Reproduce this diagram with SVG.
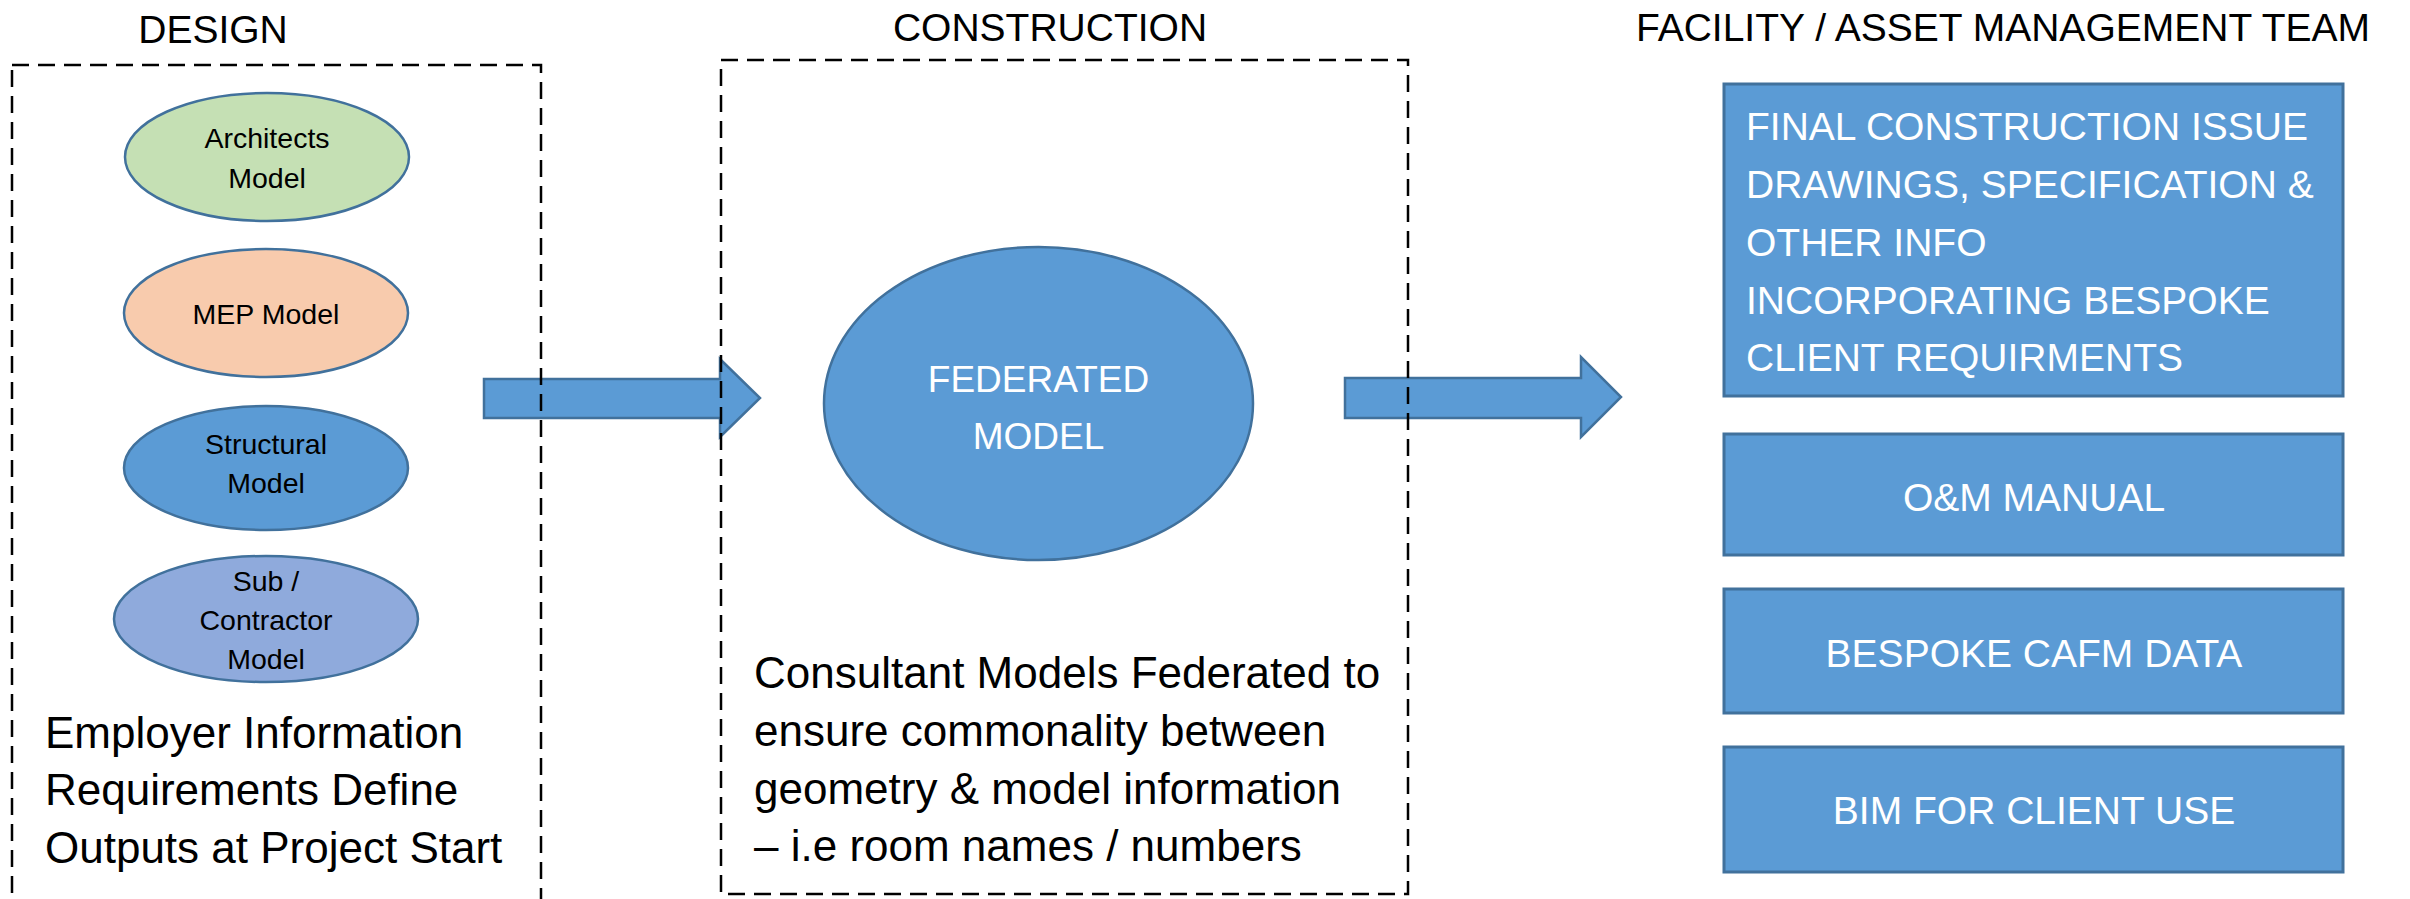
<svg xmlns="http://www.w3.org/2000/svg" width="2410" height="899" viewBox="0 0 2410 899">
<style>
  text { font-family: "Liberation Sans", Arial, sans-serif; }
  .title { font-size: 39px; fill: #000; text-anchor: middle; }
  .body { font-size: 44px; fill: #000; }
  .frame { fill: none; stroke: #000; stroke-width: 2.5; stroke-dasharray: 17 9; }
  .ell { stroke: #41719C; stroke-width: 2.5; }
  .etext { font-size: 28.5px; fill: #000; text-anchor: middle; }
  .box { fill: #5B9BD5; stroke: #41719C; stroke-width: 3; }
  .btext { font-size: 39px; fill: #fff; }
  .arrow { fill: #5B9BD5; stroke: #41719C; stroke-width: 2.5; stroke-linejoin: miter; }
</style>
<rect width="2410" height="899" fill="#fff"/>

<g id="titles">
  <text class="title" x="213" y="43">DESIGN</text>
  <text class="title" x="1050" y="41">CONSTRUCTION</text>
  <text class="title" x="2003" y="41" font-size="40">FACILITY / ASSET MANAGEMENT TEAM</text>
</g>

<g id="architects-model">
  <ellipse class="ell" cx="267" cy="157" rx="142" ry="64" fill="#C5E0B4"/>
  <text class="etext" x="267" y="148">Architects</text>
  <text class="etext" x="267" y="188">Model</text>
</g>
<g id="mep-model">
  <ellipse class="ell" cx="266" cy="313" rx="142" ry="64" fill="#F8CBAD"/>
  <text class="etext" x="266" y="324">MEP Model</text>
</g>
<g id="structural-model">
  <ellipse class="ell" cx="266" cy="468" rx="142" ry="62" fill="#5B9BD5"/>
  <text class="etext" x="266" y="454">Structural</text>
  <text class="etext" x="266" y="493">Model</text>
</g>
<g id="sub-contractor-model">
  <ellipse class="ell" cx="266" cy="619" rx="152" ry="63" fill="#8FAADC"/>
  <text class="etext" x="266" y="591">Sub /</text>
  <text class="etext" x="266" y="630">Contractor</text>
  <text class="etext" x="266" y="669">Model</text>
</g>
<g id="employer-text">
  <text class="body" x="45" y="748">Employer Information</text>
  <text class="body" x="45" y="805">Requirements Define</text>
  <text class="body" x="45" y="863">Outputs at Project Start</text>
</g>

<g id="federated-model">
  <ellipse class="ell" cx="1038.5" cy="403.5" rx="214.5" ry="156.5" fill="#5B9BD5"/>
  <text x="1038.5" y="392" font-size="37" fill="#fff" text-anchor="middle">FEDERATED</text>
  <text x="1038.5" y="449" font-size="37" fill="#fff" text-anchor="middle">MODEL</text>
</g>
<g id="consultant-text">
  <text class="body" x="754" y="688">Consultant Models Federated to</text>
  <text class="body" x="754" y="746">ensure commonality between</text>
  <text class="body" x="754" y="804">geometry &amp; model information</text>
  <text class="body" x="754" y="861">– i.e room names / numbers</text>
</g>

<g id="final-construction-issue">
  <rect class="box" x="1724" y="84" width="619" height="312"/>
  <text class="btext" x="1746" y="140">FINAL CONSTRUCTION ISSUE</text>
  <text class="btext" x="1746" y="198">DRAWINGS, SPECIFICATION &amp;</text>
  <text class="btext" x="1746" y="256">OTHER INFO</text>
  <text class="btext" x="1746" y="314">INCORPORATING BESPOKE</text>
  <text class="btext" x="1746" y="371">CLIENT REQUIRMENTS</text>
</g>
<g id="om-manual">
  <rect class="box" x="1724" y="434" width="619" height="121"/>
  <text class="btext" x="2034" y="511" text-anchor="middle">O&amp;M MANUAL</text>
</g>
<g id="bespoke-cafm-data">
  <rect class="box" x="1724" y="589" width="619" height="124"/>
  <text class="btext" x="2034" y="667" text-anchor="middle">BESPOKE CAFM DATA</text>
</g>
<g id="bim-for-client-use">
  <rect class="box" x="1724" y="747" width="619" height="125"/>
  <text class="btext" x="2034" y="824" text-anchor="middle">BIM FOR CLIENT USE</text>
</g>

<g id="connectors">
  <path class="arrow" d="M484,379 H720 V359 L760,398 L720,437 V418 H484 Z"/>
  <path class="arrow" d="M1345,378 H1581 V357 L1621,397 L1581,437 V418 H1345 Z"/>
</g>

<g id="design-frame">
  <rect class="frame" x="12" y="65" width="529" height="860"/>
</g>
<g id="construction-frame">
  <rect class="frame" x="721" y="60" width="687" height="834"/>
</g>
</svg>
